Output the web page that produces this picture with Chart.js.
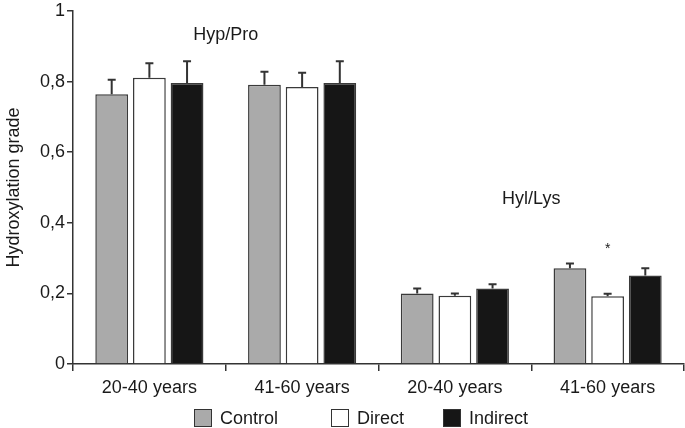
<!DOCTYPE html>
<html>
<head>
<meta charset="utf-8">
<script src="https://cdn.jsdelivr.net/npm/chart.js@4.4.0/dist/chart.umd.min.js"></script>
<style>
    html, body { margin: 0; padding: 0; background: #fff; }
    #wrap { position: relative; width: 685px; height: 428px; }
    #legend { position: absolute; left: 0; top: 409px; width: 685px; height: 18px;
              font: 18px 'Liberation Sans', Arial, sans-serif; color: #1a1a1a; }
    .item { position: absolute; top: 0; display: flex; align-items: center; height: 18px; }
    .box { width: 16px; height: 16px; border: 1px solid #333; margin-right: 8px; }
</style>
</head>
<body>
<div id="wrap">
    <canvas id="chart"></canvas>
    <div id="legend"></div>
</div>
<script>
// data
const categories = ['20-40 years', '41-60 years', '20-40 years', '41-60 years'];
const seriesNames = ['Control', 'Direct', 'Indirect'];
const controlValues = [0.764, 0.791, 0.200, 0.271];
const controlErrors = [0.041, 0.037, 0.014, 0.014];
const directValues = [0.811, 0.785, 0.193, 0.192];
const directErrors = [0.041, 0.040, 0.007, 0.007];
const indirectValues = [0.796, 0.796, 0.214, 0.251];
const indirectErrors = [0.062, 0.062, 0.012, 0.020];
const yTickLabels = ['0', '0,2', '0,4', '0,6', '0,8', '1'];

// group labels inside the plot (x as category index, y as value)
const groupLabels = ['Hyp/Pro', 'Hyl/Lys'];
const groupLabelX = [0.5, 2.5];
const groupLabelY = [0.933, 0.468];
// significance star: dataset index, category index, value
const starMark = { dataset: 1, index: 3, value: 0.314 };

const FONT = "'Liberation Sans', Arial, sans-serif";
const colors = ['#aaaaaa', '#ffffff', '#161616'];
const errors = [controlErrors, directErrors, indirectErrors];

// error bars (upper only, with cap)
const errorBarPlugin = {
    id: 'errorBars',
    afterDatasetsDraw(chart) {
        const ctx = chart.ctx;
        const y = chart.scales.y;
        ctx.save();
        ctx.strokeStyle = '#333';
        ctx.lineWidth = 2;
        chart.data.datasets.forEach((ds, di) => {
            const meta = chart.getDatasetMeta(di);
            meta.data.forEach((bar, i) => {
                const top = y.getPixelForValue(ds.data[i] + errors[di][i]);
                ctx.beginPath();
                ctx.moveTo(bar.x, bar.y);
                ctx.lineTo(bar.x, top);
                ctx.moveTo(bar.x - 4, top);
                ctx.lineTo(bar.x + 4, top);
                ctx.stroke();
            });
        });
        ctx.restore();
    }
};

// text annotations
const labelPlugin = {
    id: 'groupLabels',
    afterDraw(chart) {
        const ctx = chart.ctx;
        const xs = chart.scales.x;
        const ys = chart.scales.y;
        ctx.save();
        ctx.fillStyle = '#1a1a1a';
        ctx.font = '18px ' + FONT;
        ctx.textAlign = 'center';
        ctx.textBaseline = 'middle';
        groupLabels.forEach((t, i) => {
            ctx.fillText(t, xs.getPixelForValue(groupLabelX[i]), ys.getPixelForValue(groupLabelY[i]));
        });
        const bar = chart.getDatasetMeta(starMark.dataset).data[starMark.index];
        ctx.font = '14px ' + FONT;
        ctx.textBaseline = 'alphabetic';
        ctx.fillText('*', bar.x, ys.getPixelForValue(starMark.value));
        ctx.restore();
    }
};

const datasets = [controlValues, directValues, indirectValues].map((vals, i) => ({
    label: seriesNames[i],
    data: vals,
    backgroundColor: colors[i],
    borderColor: '#3a3a3a',
    borderWidth: 1.5,
    borderSkipped: 'bottom',
    categoryPercentage: 0.74,
    barPercentage: 0.87
}));

new Chart(document.getElementById('chart'), {
    type: 'bar',
    data: { labels: categories, datasets: datasets },
    options: {
        responsive: true,
        maintainAspectRatio: false,
        animation: false,
        layout: { padding: { left: 0, right: 1, top: 10, bottom: 27 } },
        plugins: {
            legend: { display: false },
            tooltip: { enabled: false }
        },
        scales: {
            x: {
                grid: { display: true, drawOnChartArea: false, offset: true, tickLength: 7, color: '#333', lineWidth: 1.5 },
                border: { display: true, color: '#333', width: 1.5 },
                ticks: { font: { size: 18, family: FONT }, color: '#1a1a1a', padding: 6, maxRotation: 0 },
                afterFit: scale => { scale.height = 37; }
            },
            y: {
                min: 0,
                max: 1,
                grid: { display: true, drawOnChartArea: false, tickLength: 6, color: '#333', lineWidth: 1.5 },
                border: { display: true, color: '#333', width: 1.5 },
                ticks: {
                    stepSize: 0.2,
                    padding: 2,
                    font: { size: 18, family: FONT, lineHeight: 1 },
                    color: '#1a1a1a',
                    callback: (v, i) => yTickLabels[i]
                },
                title: {
                    display: true,
                    text: 'Hydroxylation grade',
                    font: { size: 18, family: FONT },
                    color: '#1a1a1a',
                    padding: { top: 3, bottom: 0 }
                },
                afterFit: scale => { scale.width = 73; }
            }
        }
    },
    plugins: [errorBarPlugin, labelPlugin]
});

// legend built from the same names/colours
const legendX = [194, 331, 443];
const legend = document.getElementById('legend');
seriesNames.forEach((name, i) => {
    const item = document.createElement('div');
    item.className = 'item';
    item.style.left = legendX[i] + 'px';
    item.innerHTML = '<div class="box" style="background:' + colors[i] + '"></div><span>' + name + '</span>';
    legend.appendChild(item);
});
</script>
</body>
</html>
